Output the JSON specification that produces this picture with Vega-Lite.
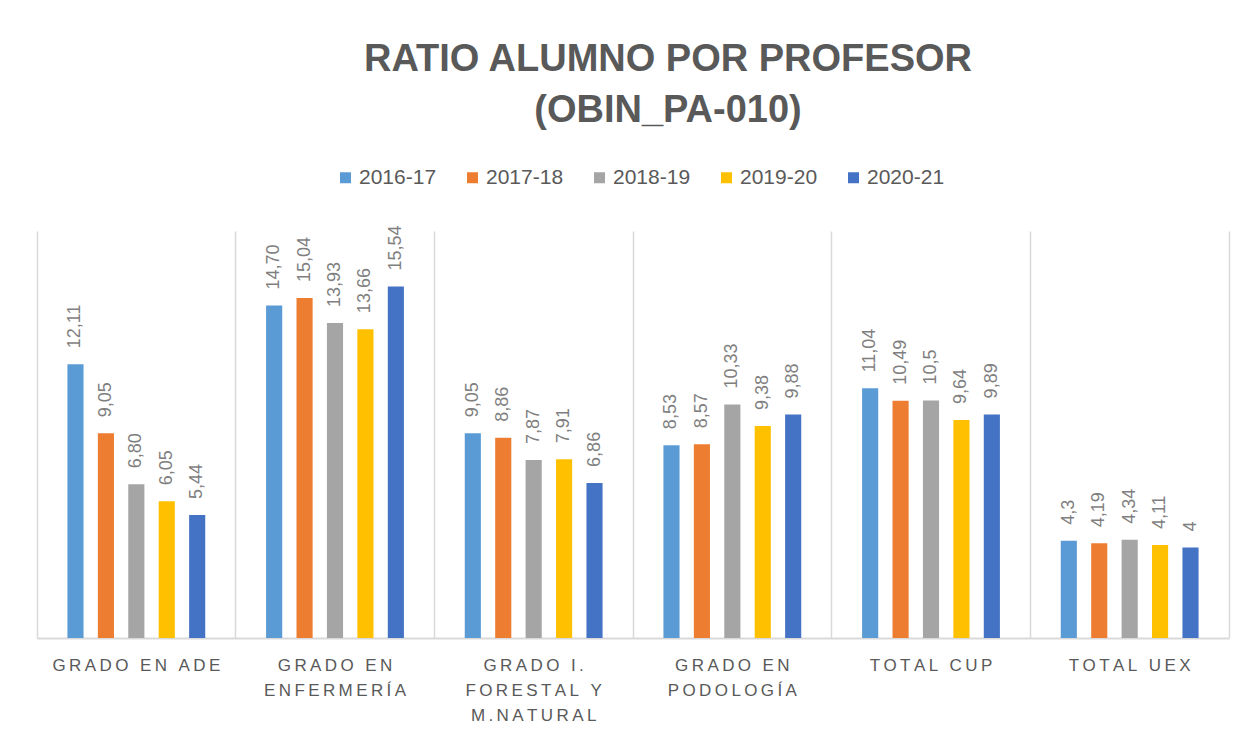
{
  "$schema": "https://vega.github.io/schema/vega-lite/v6.json",
  "autosize": "none",
  "width": 1192,
  "height": 407,
  "padding": {"left": 37, "top": 231, "right": 16, "bottom": 102},
  "background": "white",
  "config": {
    "view": {"stroke": null},
    "font": "Liberation Sans"
  },
  "title": {
    "text": ["RATIO ALUMNO POR PROFESOR", "(OBIN_PA-010)"],
    "font": "Liberation Sans",
    "fontSize": 38,
    "fontWeight": "bold",
    "color": "#595959",
    "lineHeight": 51,
    "anchor": "middle",
    "baseline": "alphabetic",
    "dx": 35,
    "offset": 7
  },
  "data": {
    "values": [
      {"cat": "Grado en ADE", "year": "2016-17", "value": 12.11, "label": "12,11"},
      {"cat": "Grado en ADE", "year": "2017-18", "value": 9.05, "label": "9,05"},
      {"cat": "Grado en ADE", "year": "2018-19", "value": 6.80, "label": "6,80"},
      {"cat": "Grado en ADE", "year": "2019-20", "value": 6.05, "label": "6,05"},
      {"cat": "Grado en ADE", "year": "2020-21", "value": 5.44, "label": "5,44"},
      {"cat": "Grado en Enfermería", "year": "2016-17", "value": 14.70, "label": "14,70"},
      {"cat": "Grado en Enfermería", "year": "2017-18", "value": 15.04, "label": "15,04"},
      {"cat": "Grado en Enfermería", "year": "2018-19", "value": 13.93, "label": "13,93"},
      {"cat": "Grado en Enfermería", "year": "2019-20", "value": 13.66, "label": "13,66"},
      {"cat": "Grado en Enfermería", "year": "2020-21", "value": 15.54, "label": "15,54"},
      {"cat": "Grado I. Forestal y M.Natural", "year": "2016-17", "value": 9.05, "label": "9,05"},
      {"cat": "Grado I. Forestal y M.Natural", "year": "2017-18", "value": 8.86, "label": "8,86"},
      {"cat": "Grado I. Forestal y M.Natural", "year": "2018-19", "value": 7.87, "label": "7,87"},
      {"cat": "Grado I. Forestal y M.Natural", "year": "2019-20", "value": 7.91, "label": "7,91"},
      {"cat": "Grado I. Forestal y M.Natural", "year": "2020-21", "value": 6.86, "label": "6,86"},
      {"cat": "Grado en Podología", "year": "2016-17", "value": 8.53, "label": "8,53"},
      {"cat": "Grado en Podología", "year": "2017-18", "value": 8.57, "label": "8,57"},
      {"cat": "Grado en Podología", "year": "2018-19", "value": 10.33, "label": "10,33"},
      {"cat": "Grado en Podología", "year": "2019-20", "value": 9.38, "label": "9,38"},
      {"cat": "Grado en Podología", "year": "2020-21", "value": 9.88, "label": "9,88"},
      {"cat": "Total CUP", "year": "2016-17", "value": 11.04, "label": "11,04"},
      {"cat": "Total CUP", "year": "2017-18", "value": 10.49, "label": "10,49"},
      {"cat": "Total CUP", "year": "2018-19", "value": 10.5, "label": "10,5"},
      {"cat": "Total CUP", "year": "2019-20", "value": 9.64, "label": "9,64"},
      {"cat": "Total CUP", "year": "2020-21", "value": 9.89, "label": "9,89"},
      {"cat": "Total UEX", "year": "2016-17", "value": 4.3, "label": "4,3"},
      {"cat": "Total UEX", "year": "2017-18", "value": 4.19, "label": "4,19"},
      {"cat": "Total UEX", "year": "2018-19", "value": 4.34, "label": "4,34"},
      {"cat": "Total UEX", "year": "2019-20", "value": 4.11, "label": "4,11"},
      {"cat": "Total UEX", "year": "2020-21", "value": 4, "label": "4"}
    ]
  },
  "encoding": {
    "x": {
      "field": "cat",
      "type": "nominal",
      "sort": null,
      "scale": {"paddingInner": 0, "paddingOuter": 0},
      "axis": {
        "title": null,
        "ticks": false,
        "grid": true,
        "gridColor": "#D9D9D9",
        "gridWidth": 1.5,
        "bandPosition": 0,
        "domainColor": "#D9D9D9",
        "domainWidth": 2,
        "labelAngle": 0,
        "labelFont": "Liberation Sans",
        "labelFontSize": 17,
        "labelColor": "#595959",
        "labelPadding": 19,
        "labelBaseline": "top",
        "labelLineHeight": 25,
        "labelLimit": 0,
        "labelExpr": "split(replace(upper(datum.value == 'Grado en Enfermería' ? 'Grado en|Enfermería' : datum.value == 'Grado I. Forestal y M.Natural' ? 'Grado I.|Forestal y|M.Natural' : datum.value == 'Grado en Podología' ? 'Grado en|Podología' : datum.value), regexp('([^|])(?=[^|])', 'g'), '$1\u2009'), '|')"
      }
    },
    "xOffset": {
      "field": "year",
      "type": "nominal",
      "sort": null,
      "scale": {"paddingInner": 0.47, "paddingOuter": 1.166}
    },
    "y": {
      "field": "value",
      "type": "quantitative",
      "scale": {"domain": [0, 18], "nice": false},
      "axis": {
        "orient": "right",
        "title": null,
        "labels": false,
        "ticks": false,
        "grid": false,
        "domainColor": "#D9D9D9",
        "domainWidth": 1.5
      }
    }
  },
  "layer": [
    {
      "mark": {"type": "bar"},
      "encoding": {
        "color": {
          "field": "year",
          "type": "nominal",
          "sort": null,
          "scale": {
            "domain": ["2016-17", "2017-18", "2018-19", "2019-20", "2020-21"],
            "range": ["#5B9BD5", "#ED7D31", "#A5A5A5", "#FFC000", "#4472C4"]
          },
          "legend": {
            "title": null,
            "orient": "none",
            "legendX": 298,
            "legendY": -64,
            "direction": "horizontal",
            "columns": 5,
            "columnPadding": 25,
            "symbolType": "square",
            "symbolSize": 121,
            "symbolStrokeWidth": 0,
            "symbolOpacity": 1,
            "labelFont": "Liberation Sans",
            "labelFontSize": 21,
            "labelColor": "#595959",
            "labelOffset": 3,
            "labelLimit": 200,
            "padding": 0
          }
        }
      }
    },
    {
      "mark": {
        "type": "text",
        "angle": 270,
        "align": "left",
        "baseline": "middle",
        "dx": 16,
        "font": "Liberation Sans",
        "fontSize": 18,
        "color": "#7F7F7F"
      },
      "encoding": {
        "text": {"field": "label", "type": "nominal"}
      }
    }
  ]
}
